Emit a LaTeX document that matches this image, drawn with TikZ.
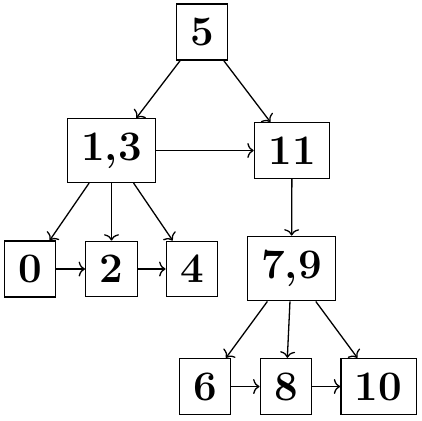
\documentclass[tikz,border=0pt]{standalone}
\usetikzlibrary{arrows.meta}
\begin{document}
\begin{tikzpicture}[x=0.5pt,y=-0.5pt,
  box/.style={draw,rectangle,line width=0.65pt,inner sep=7pt,font=\fontsize{21}{25}\selectfont\bfseries},
  arr/.style={-{To[length=3.2pt,width=7.5pt]},line width=0.65pt}]
\useasboundingbox (0,0) rectangle (422,420);
\node[box] (n5) at (202,32) {5};
\node[box] (n13) at (111.5,150.5) {1,3};
\node[box] (n11) at (292,150.5) {11};
\node[box] (n0) at (30,269) {0};
\node[box] (n2) at (111.5,269) {2};
\node[box] (n4) at (192,269) {4};
\node[box] (n79) at (291.5,268.5) {7,9};
\node[box] (n6) at (205,386.5) {6};
\node[box] (n8) at (286,386.5) {8};
\node[box] (n10) at (378.5,386.5) {10};
\draw[arr] (n5) -- (n13);
\draw[arr] (n5) -- (n11);
\draw[arr] (n13) -- (n11);
\draw[arr] (n13) -- (n0);
\draw[arr] (n13) -- (n2);
\draw[arr] (n13) -- (n4);
\draw[arr] (n0) -- (n2);
\draw[arr] (n2) -- (n4);
\draw[arr] (n11) -- (n79);
\draw[arr] (n79) -- (n6);
\draw[arr] (n79) -- (n8);
\draw[arr] (n79) -- (n10);
\draw[arr] (n6) -- (n8);
\draw[arr] (n8) -- (n10);
\end{tikzpicture}
\end{document}
